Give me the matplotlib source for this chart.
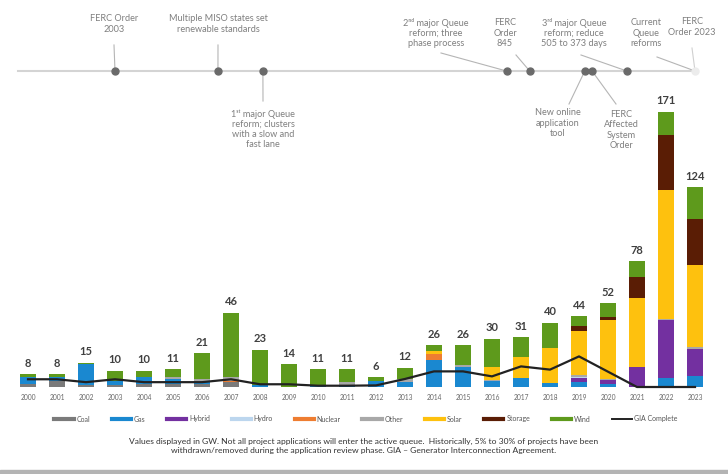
import matplotlib.pyplot as plt
import numpy as np
from matplotlib.lines import Line2D
from matplotlib.patches import Rectangle

plt.rcParams["font.family"] = ["Lato", "DejaVu Sans"]

# ============= Data (GW entering the queue per year) ===========#
years = list(range(2000, 2024))
totals = [8, 8, 15, 10, 10, 11, 21, 46, 23, 14, 11, 11,
          6, 12, 26, 26, 30, 31, 40, 44, 52, 78, 171, 124]

coal = [2, 4, 1, 1.5, 2, 2, 2, 3, 0, 0, 0, 0,
        0, 0, 0, 0, 0, 0, 0, 0, 0, 0, 0, 0]
gas = [4.5, 2.5, 13, 2.5, 4, 3, 1, 0, 1, 0, 0.5, 1,
       4, 3, 17, 12.4, 3.7, 5.6, 2.5, 3, 2, 0, 5.8, 6.6]
hybrid = [0, 0, 0, 0, 0, 0, 0, 0, 0, 0, 0, 0,
          0, 0, 0, 0, 0, 0, 0, 2.8, 2.5, 12.4, 35.6, 17]
hydro = [0, 0, 0, 0, 0, 0, 0, 0, 0, 0, 0, 0,
         0, 0, 0, 0, 0, 0, 0, 0.7, 0, 0, 0, 0]
nuclear = [0, 0, 0, 0, 0, 0, 0, 1, 0, 0, 0, 0,
           0, 0, 3.5, 0, 0, 0, 0, 0, 0, 0, 0, 0]
other = [0, 0, 0, 0, 0, 1, 2, 2, 0, 0, 0, 2,
         0, 2, 0, 1.2, 0.5, 0, 0, 0.7, 0.5, 0, 1, 1]
solar = [0, 0, 0, 0, 0, 0, 0, 0, 0, 0, 0, 0,
         0, 0, 2, 0, 8.5, 13, 22, 27.5, 36.5, 43, 80, 51]
storage = [0, 0, 0, 0, 0, 0, 0, 0, 0, 0, 0, 0,
           0, 0, 0, 0, 0, 0, 0, 3, 2, 13, 34, 28.5]
wind = [1.5, 1.5, 1, 6, 4, 5, 16, 40, 22, 14, 10.5, 8,
        2, 7, 3.5, 12.4, 17.3, 12.4, 15.5, 6.3, 8.5, 9.6, 14.6, 19.9]
gia_complete = [4.8, 4.8, 3, 4.8, 3, 3, 3, 4.8, 1.7, 1.7, 0.8, 0.8,
                1, 5, 9.7, 9.7, 6.6, 12.8, 10.8, 19, 9.5, 0, 0, 0]

fuel_names = ["Coal", "Gas", "Hybrid", "Hydro", "Nuclear", "Other",
              "Solar", "Storage", "Wind"]
fuel_values = [coal, gas, hybrid, hydro, nuclear, other, solar, storage, wind]
fuel_colors = ["#7a7a7a", "#1a88d0", "#7330a0", "#bcd6ee", "#ee7d31",
               "#a8a8a8", "#fec10e", "#5a1d05", "#5e9a1c"]

# timeline events (approximate date on the year axis)
event_years = [2003, 2006.55, 2008.1, 2016.5, 2017.3, 2019.2, 2019.45,
               2020.65, 2023]
event_labels = [
    "FERC Order\n2003",
    "Multiple MISO states set\nrenewable standards",
    "1\u02e2\u1d57 major Queue\nreform; clusters\nwith a slow and\nfast lane",
    "2\u207f\u1d48 major Queue\nreform; three\nphase process",
    "FERC\nOrder\n845",
    "New online\napplication\ntool",
    "FERC\nAffected\nSystem\nOrder",
    "3\u02b3\u1d48 major Queue\nreform; reduce\n505 to 373 days",
    "Current\nQueue\nreforms",
]
# label layout in pixels: (text x, text y, connector end x, connector end y)
event_layout = [
    (114, 24, 114, 45),
    (218, 24, 218, 45),
    (263, 129, 263, 101),
    (436, 33, 441, 53),
    (505, 33, 516, 55),
    (558, 123, 569, 104),
    (621, 130, 616, 104),
    (574, 33, 581, 55),
    (646, 33, 657, 57),
]

W, H = 728, 474
BASE_PX, PX_PER_GW = 387, 1.61
X0_PX, STEP_PX = 28, 29
LINE_PX = 71


def gx(px):
    return (px - X0_PX) / STEP_PX


def gy(py):
    return (BASE_PX - py) / PX_PER_GW


def main():
    fig = plt.figure(figsize=(W / 100, H / 100), dpi=100)
    ax = fig.add_axes([0, 0, 1, 1])
    ax.set_xlim(gx(0), gx(W))
    ax.set_ylim(gy(H), gy(0))
    ax.axis("off")

    x = np.arange(len(years))
    bottom = np.zeros(len(years))
    for name, vals, col in zip(fuel_names, fuel_values, fuel_colors):
        ax.bar(x, vals, 0.56, bottom=bottom, color=col, linewidth=0)
        bottom += np.array(vals)

    ax.plot(x, gia_complete, color="#222222", lw=1.6, zorder=5)

    for xi, top, t in zip(x, bottom, totals):
        ax.annotate(str(t), (xi, top), xytext=(0, 4), textcoords="offset points",
                    ha="center", va="bottom", fontsize=8, fontweight="bold",
                    color="#404040")
    for xi, yr in zip(x, years):
        ax.text(xi, gy(398), str(yr), ha="center", va="center",
                fontsize=4.8, color="#666666")

    # ================= Timeline =================#
    ev_x = [y - 2000 for y in event_years]
    ax.plot([gx(18), ev_x[-1]], [gy(LINE_PX)] * 2, color="#d4d4d4", lw=1.5,
            zorder=1)
    ax.plot(ev_x[:-1], [gy(LINE_PX)] * (len(ev_x) - 1), "o", color="#6a6a6a",
            ms=5, zorder=3)
    ax.plot(ev_x[-1], gy(LINE_PX), "o", color="#ececec", ms=5, zorder=3)

    for ex, lab, (tx, ty, cx, cy) in zip(ev_x, event_labels, event_layout):
        ax.plot([ex, gx(cx)], [gy(LINE_PX), gy(cy)], color="#b5b5b5", lw=0.8,
                zorder=2)
        ax.text(gx(tx), gy(ty), lab, ha="center", va="center", fontsize=6.6,
                color="#7f7f7f", linespacing=1.15)
    ax.plot([gx(692), ev_x[-1]], [gy(48), gy(LINE_PX)], color="#d0d0d0",
            lw=0.8, zorder=2)
    ax.text(gx(692), gy(27), "FERC\nOrder 2023", ha="center", va="center",
            fontsize=6.6, color="#7f7f7f", linespacing=1.15)

    # ================= Legend & note =================#
    handles = [Line2D([], [], color=c, lw=3) for c in fuel_colors]
    handles.append(Line2D([], [], color="#222222", lw=1.4))
    fig.legend(handles, fuel_names + ["GIA Complete"], loc="center",
               bbox_to_anchor=(366 / W, 1 - 419 / H), ncol=10, frameon=False,
               fontsize=5, handlelength=2.8, handletextpad=0.4,
               columnspacing=3.1, labelcolor="#555555")

    fig.text(0.5, 1 - 446 / H,
             "Values displayed in GW. Not all project applications will enter "
             "the active queue.  Historically, 5% to 30% of projects have been\n"
             "withdrawn/removed during the application review phase. "
             "GIA \u2013 Generator Interconnection Agreement.",
             ha="center", va="center", fontsize=6.1, color="#333333",
             linespacing=1.45)

    fig.patches.append(Rectangle((0, 0), 1, 4 / H, transform=fig.transFigure,
                                 color="#b4b4b4", zorder=0))

    fig.savefig("out.png", dpi=100)


if __name__ == "__main__":
    main()
